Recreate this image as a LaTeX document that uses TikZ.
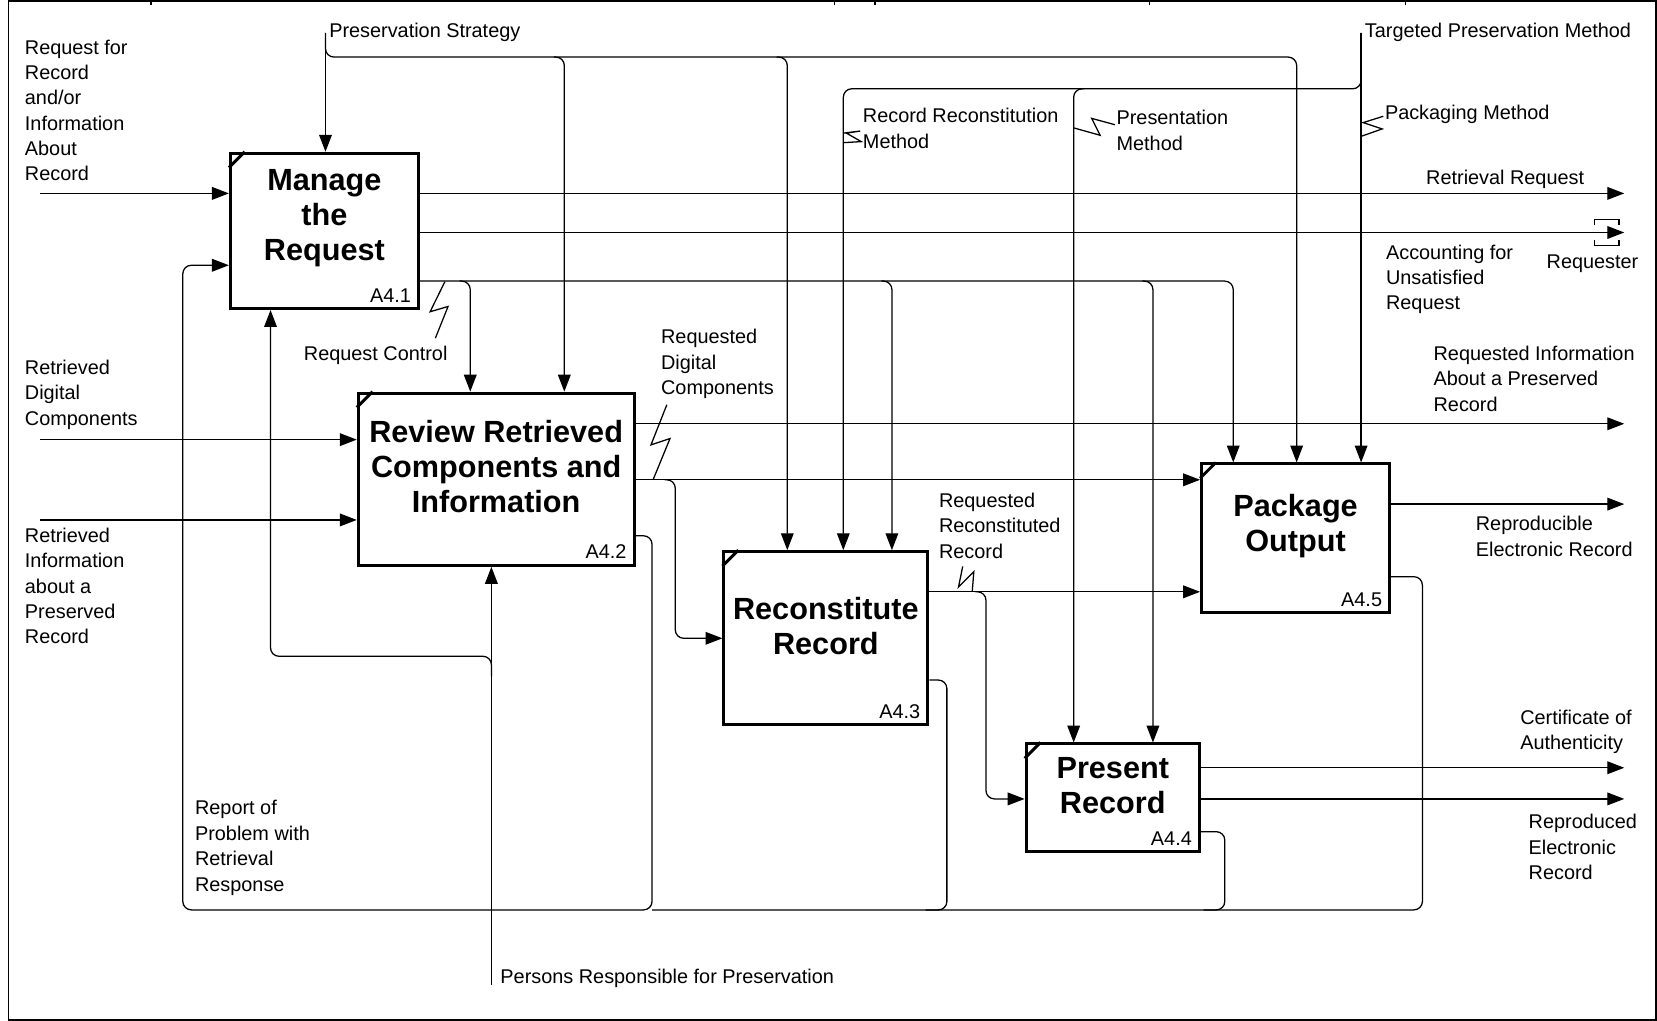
\documentclass[tikz,border=0pt]{standalone}
\usepackage{fontspec}
\setmainfont{Liberation Sans}
\usetikzlibrary{arrows.meta, fit}

\newcommand{\lblsize}{\fontsize{9.4}{12}\selectfont}
\newcommand{\ttlsize}{\fontsize{14.5}{16.5}\selectfont\bfseries}

\begin{document}
\begin{tikzpicture}[x=0.5pt, y=-0.5pt, line width=0.6pt,
    arr/.style={-{Triangle[length=8pt,width=6pt]}},
    rnd/.style={rounded corners=4pt},
    func/.style={draw, line width=1.4pt, inner sep=0pt},
    title/.style={font=\ttlsize, align=center, inner sep=0pt},
    idtag/.style={font=\lblsize, inner sep=0pt, anchor=south east},
    lbl/.style={font=\lblsize, align=left, inner sep=0pt, anchor=north west}]

    \useasboundingbox (0,0) rectangle (1568,966);
    \draw[line width=0.8pt] (8,1) rectangle (1567,965);
    \foreach \x in {143,790,828,1088,1330}
      \draw (\x,1) -- (\x,5);

    \foreach \name/\xa/\ya/\xb/\yb/\id/\txt in {
        mr/218/145/396/292/A4.1/{Manage\\the\\Request},
        rv/339/372/600/535/A4.2/{Review Retrieved\\Components and\\Information},
        rc/685/522/878/686/A4.3/{Reconstitute\\Record},
        pr/971/704/1135/806/A4.4/{Present\\Record},
        pk/1137/439/1315/580/A4.5/{Package\\Output}} {
      \node[func, fit={(\xa,\ya) (\xb,\yb)}] (\name) {};
      \node[title] (\name-t) at ([yshift=6pt]\name.center) {\txt};
      \node[idtag] (\name-id) at ([shift={(-4pt,3.5pt)}]\name.south east) {\id};
      \draw[line width=1.4pt] ([yshift=-7.5pt]\name.north west) -- ([xshift=7.5pt]\name.north west);
    }

    \coordinate (req) at (38,183);
    \coordinate (comp) at (38,416);
    \coordinate (info) at (38,492);
    \foreach \src/\dst in {req/mr, comp/rv, info/rv}
      \draw[arr] (\src) -- (\src -| \dst.west);

    \coordinate (retr) at (1537,183);
    \coordinate (acct) at (1537,220);
    \coordinate (reqinfo) at (1537,401);
    \coordinate (repro) at (1537,477);
    \coordinate (cert) at (1537,726.5);
    \coordinate (reprod) at (1537,756);
    \foreach \src/\dst in {mr/retr, mr/acct, rv/reqinfo, pk/repro, pr/cert, pr/reprod}
      \draw[arr] (\dst -| \src.east) -- (\dst);
    \draw ([shift={(-28,-7)}]acct) |- ([shift={(-5,-12)}]acct) -- ++(0,5);
    \draw ([shift={(-28,7)}]acct) |- ([shift={(-5,12)}]acct) -- ++(0,-5);

    \coordinate (rdc) at (629,454);
    \coordinate (rrr) at (923,560);
    \draw[arr] (rv.east |- rdc) -- (pk.west |- rdc);
    \draw[arr, rnd] (rdc) -| (639,604) -- (rc.west |- 0,604);
    \draw[arr] (rc.east |- rrr) -- (pk.west |- rrr);
    \draw[arr, rnd] (rrr) -| (933,756) -- (pr.west |- 0,756);

    \coordinate (strat) at (308,31);
    \coordinate (targ) at (1288,31);
    \coordinate (rctl) at (mr.east |- 0,266);
    \draw[arr] (strat) -- (strat |- mr.north);
    \draw[arr] (targ) -- (targ |- pk.north);
    \draw[arr, rnd] (strat) |- (1227,54) -- (pk.north -| 1227,0);
    \foreach \x/\dst in {534/rv, 745/rc}
      \draw[arr, rnd] (\x-10,54) -| (\dst.north -| \x,0);
    \draw[arr, rnd] (rctl) -| (pk.north -| 1167,0);
    \foreach \x/\dst in {445/rv, 844/rc, 1091/pr}
      \draw[arr, rnd] (\x-10,266) -| (\dst.north -| \x,0);
    \draw[arr, rnd] (targ) |- (798,84) -- (rc.north -| 798,0);
    \draw[arr, rnd] (1026,84) -| (pr.north -| 1016,0);

    \draw[arr, rnd] (rv.east |- 0,507) -| (617,861) -| (173,251) -- (mr.west |- 0,251);
    \foreach \src/\y/\x/\e in {rc/643.5/896/876, pr/787/1159/1139, pk/545.7/1346/617}
      \draw[rnd] (\src.east |- 0,\y) -| (\x,861) -- (\e,861);

    \coordinate (pers) at (465,932);
    \draw[arr] (pers) -- (pers |- rv.south);
    \draw[arr, rnd] (465,640) |- (256,621) -- (mr.south -| 256,0);

    \draw (421,266.5) -- (407,295) -- (424,290) -- (412,320);
    \draw (631,383) -- (616,421) -- (634,415) -- (618,454);
    \draw (920,560) -- (921.5,541) -- (907,555.5) -- (911,536);
    \draw (798,126) -- (814,124) -- (801,126) -- (815,134) -- (798,135);
    \draw (1016,121) -- (1041,128) -- (1033,112) -- (1055,118);
    \draw (1288,129) -- (1308,122) -- (1290,116) -- (1309,110);

    \node[lbl] (req-l) at (23,37) {Request for\\Record\\and/or\\Information\\About\\Record};
    \node[lbl] (comp-l) at (23,340) {Retrieved\\Digital\\Components};
    \node[lbl] (info-l) at (23,499) {Retrieved\\Information\\about a\\Preserved\\Record};
    \node[lbl] (strat-l) at (311,21) {Preservation Strategy};
    \node[lbl] (targ-l) at (1291,21) {Targeted Preservation Method};
    \node[lbl] (recm-l) at (816,102) {Record Reconstitution\\Method};
    \node[lbl] (presm-l) at (1056,104) {Presentation\\Method};
    \node[lbl] (packm-l) at (1310,99) {Packaging Method};
    \node[lbl] (retr-l) at (1349,160) {Retrieval Request};
    \node[lbl] (acct-l) at (1311,231) {Accounting for\\Unsatisfied\\Request};
    \node[lbl] (requester-l) at (1463,241) {Requester};
    \node[lbl] (rctl-l) at (287,327) {Request Control};
    \node[lbl] (rdc-l) at (625,311) {Requested\\Digital\\Components};
    \node[lbl] (reqinfo-l) at (1356,327) {Requested Information\\About a Preserved\\Record};
    \node[lbl] (rrr-l) at (888,466) {Requested\\Reconstituted\\Record};
    \node[lbl] (repro-l) at (1396,488) {Reproducible\\Electronic Record};
    \node[lbl] (cert-l) at (1438,671) {Certificate of\\Authenticity};
    \node[lbl] (reprod-l) at (1446,770) {Reproduced\\Electronic\\Record};
    \node[lbl] (rep-l) at (184,757) {Report of\\Problem with\\Retrieval\\Response};
    \node[lbl] (pers-l) at (473,916) {Persons Responsible for Preservation};
\end{tikzpicture}
\end{document}
